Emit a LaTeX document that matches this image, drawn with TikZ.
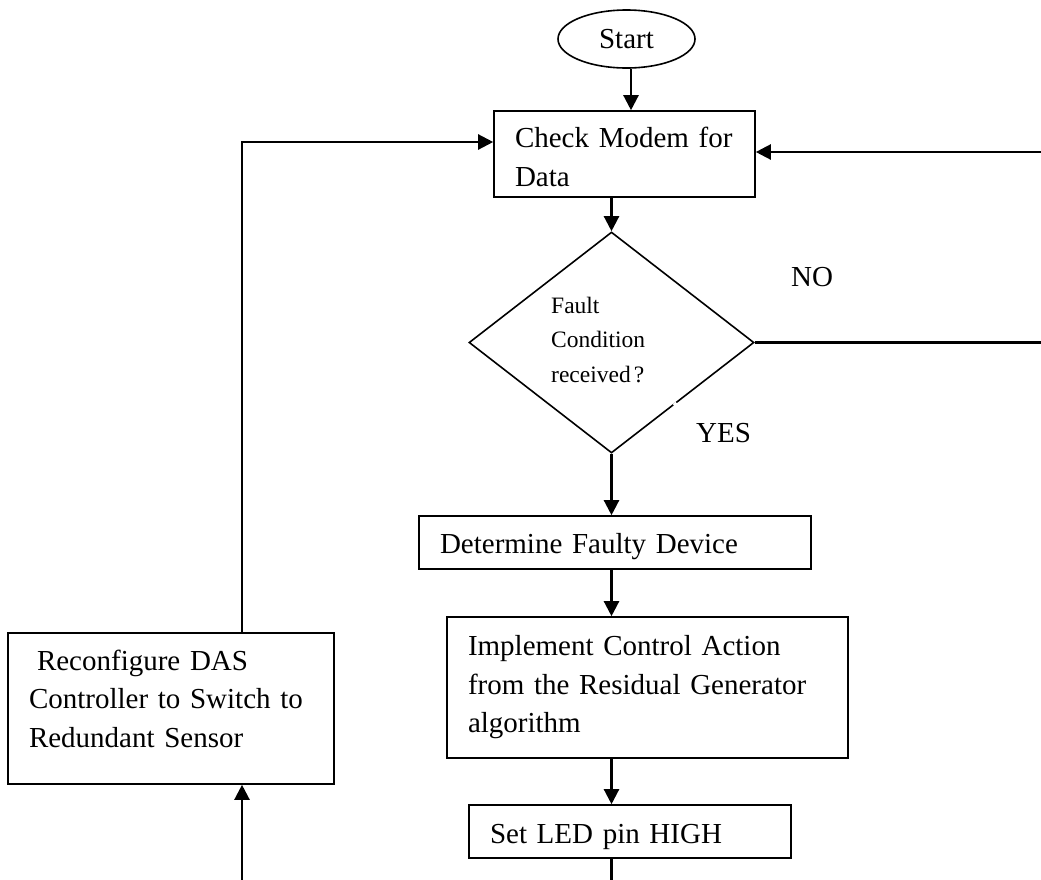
\documentclass[tikz,border=0pt]{standalone}
\usepackage{fontspec}
\setmainfont{Liberation Serif}
\usetikzlibrary{arrows.meta,shapes.geometric,calc}
\begin{document}
\begin{tikzpicture}[x=1pt,y=-1pt,
  proc/.style={draw, line width=1.6pt, inner xsep=21pt, inner ysep=0pt,
    align=left, font=\fontsize{29}{38.5}\selectfont},
  term/.style={ellipse, draw, line width=1.6pt, inner sep=0pt,
    font=\fontsize{29}{34}\selectfont},
  decision/.style={diamond, draw, line width=1.6pt, inner sep=0pt},
  smalltext/.style={inner sep=0pt, align=left, anchor=base west,
    font=\fontsize{23.5}{34.5}\selectfont},
  lbl/.style={inner sep=0pt, anchor=base west, font=\fontsize{29}{34}\selectfont},
  arr/.style={line width=2.3pt, -{Triangle[length=15pt,width=15pt]}},
  link/.style={line width=2.3pt}]

\useasboundingbox (0,0) rectangle (1041,879);

% flow nodes
\node[term, minimum width=137pt, minimum height=58pt] (start) at (626.5,39) {Start};
\node[proc, minimum width=261pt, minimum height=86pt, text width=219pt] (check) at (624.5,154)
  {\rule{0pt}{26.5pt}Check Modem for\\Data};
\node[decision, minimum width=285pt, minimum height=221pt] (dec) at (611.5,342.5) {};
\node[smalltext, text width=110pt] (dectext) at (551,313) {Fault\\Condition\\received\kern3pt?};
\node[proc, minimum width=392pt, minimum height=53pt, text width=350pt] (det) at (615,542.5)
  {\rule{0pt}{27.3pt}Determine Faulty Device};
\node[proc, minimum width=401pt, minimum height=141pt, text width=359pt] (impl) at (647.5,687.5)
  {Implement Control Action\\from the Residual Generator\\algorithm};
\node[proc, minimum width=322pt, minimum height=53pt, text width=280pt] (led) at (630,831.5)
  {\rule{0pt}{29.3pt}Set LED pin HIGH};
\node[proc, minimum width=326pt, minimum height=151pt, text width=284pt] (reconf) at (171,708.5)
  {\hspace*{8pt}Reconfigure DAS\\Controller to Switch to\\Redundant Sensor\rule[-19.8pt]{0pt}{19.8pt}};

% branch labels
\node[lbl] (nolbl) at (791,286) {NO};
\node[lbl] (yeslbl) at (696,442) {YES};

% small break in the lower right edge of the decision
\draw[white, line width=3.5pt] ($(dec.east)!0.545!(dec.south)$) -- ($(dec.east)!0.565!(dec.south)$);

% routing points of the return loops
\coordinate (rtLow) at (1047,342.5);
\coordinate (rtHigh) at (1047,152);
\coordinate (lfHigh) at (242,142);
\coordinate (lfLow) at (242,892);
\coordinate (btm) at (611.5,892);

% connectors
\draw[arr] ([xshift=4.5pt]start.south) -- ([xshift=6.5pt]check.north);
\draw[arr] (check.south -| dec.north) -- (dec.north);
\draw[arr] (dec.south) -- (dec.south |- det.north);
\draw[arr] (det.south -| dec.south) -- (impl.north -| dec.south);
\draw[arr] (impl.south -| dec.south) -- (led.north -| dec.south);
\draw[arr] (led.south -| dec.south) -- (btm) -- (lfLow) -- (lfLow |- reconf.south);
\draw[arr] (reconf.north -| lfHigh) -- (lfHigh) -- (lfHigh -| check.west);
\draw[arr] (dec.east) -- (rtLow) -- (rtHigh) -- (rtHigh -| check.east);
\end{tikzpicture}
\end{document}
